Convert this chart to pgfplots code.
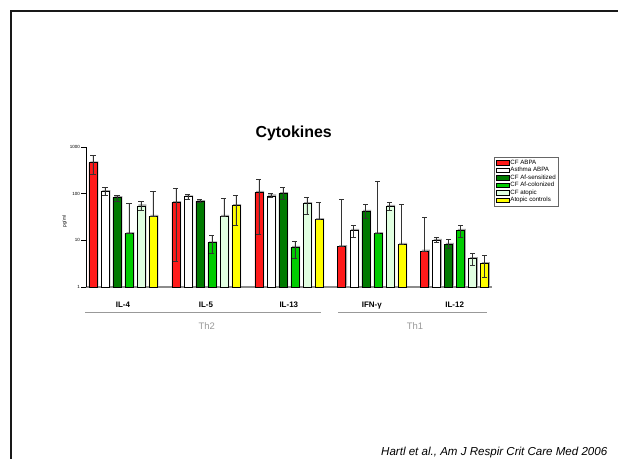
\documentclass[border=0pt]{standalone}
\usepackage{fontspec}
\setmainfont{Liberation Sans}
\usepackage{pgfplots}
\usepackage{pgfplotstable}
\pgfplotsset{compat=1.18}
\definecolor{cfred}{HTML}{FF1A1A}
\definecolor{cfdkgreen}{HTML}{007A00}
\definecolor{cfgreen}{HTML}{00CC00}
\definecolor{cfltgreen}{HTML}{E0FFE0}
\definecolor{cfyellow}{HTML}{FFFF00}

% x y errplus errminus
\pgfplotstableread{
x y ep em
0 460 190 197
6.91 65 65 61.5
13.82 107 95 93.5
20.73 7.4 66.6 0
27.64 5.9 25.1 0
}\tA
\pgfplotstableread{
x y ep em
1 112 22 20
7.91 86 11 9
14.82 90 11 7
21.73 16.6 3.9 5
28.64 10.1 1.3 1.2
}\tB
\pgfplotstableread{
x y ep em
2 83 10 14
8.91 68 8 4
15.82 101 33 26
22.73 42 18 13
29.64 8.3 2 1.7
}\tC
\pgfplotstableread{
x y ep em
3 14 48 0
9.91 8.9 3.9 3.6
16.82 7.1 2.4 3.0
23.73 14 169 0
30.64 16.6 3.9 4.7
}\tD
\pgfplotstableread{
x y ep em
4 55 13 11
10.91 33 46 0
17.82 62 21 26
24.73 54 12 11
31.64 4.1 1.1 1.24
}\tE
\pgfplotstableread{
x y ep em
5 33 77 0
11.91 56 36 35
18.82 28 38 0
25.73 8.3 50.7 0
32.64 3.2 1.5 1.6
}\tF

\pgfplotsset{
  shadowbar/.style={ybar, bar width=8bp, bar shift=0pt, fill=black!35, draw=none, forget plot, xshift=1.3bp, yshift=1.3bp},
  mainbar/.style={ybar, bar width=8bp, bar shift=0pt, draw=black, line width=0.5bp,
    error bars/y dir=both, error bars/y explicit,
    error bars/error bar style={black!80, line width=0.6bp},
    error bars/error mark options={rotate=90, mark size=2.6bp, black!80, line width=0.6bp}},
}

\begin{document}
\begin{tikzpicture}
\useasboundingbox (0,0) rectangle (618bp,459bp);
\clip (0,0) rectangle (618bp,459bp);
\fill[white] (0,0) rectangle (618bp,459bp);
\draw[line width=2.4bp, black!90] (11bp,-3bp) -- (11bp,448bp) -- (622bp,448bp);
\begin{axis}[
  at={(86bp,172bp)}, anchor=south west,
  width=406bp, height=140bp, scale only axis,
  xmin=-0.58, xmax=33.25,
  ymode=log, ymin=1, ymax=1000,
  ytick={1,10,100,1000}, yticklabels={1,10,100,1000},
  yminorticks=false,
  axis lines*=left,
  x axis line style={black!45, line width=1.8bp},
  y axis line style={black, line width=0.6bp},
  tick align=outside,
  major tick length=5bp,
  ytick style={black, line width=0.5bp},
  xtick={2.5,9.41,16.32,23.23,30.14},
  xticklabels={IL-4,IL-5,IL-13,IFN-γ,IL-12},
  xtick style={draw=none},
  xticklabel style={font=\bfseries\fontsize{8}{9}\selectfont, anchor=base, yshift=-15.5bp},
  yticklabel style={font=\fontsize{4.5}{5}\selectfont, inner sep=1bp},
  /pgf/number format/assume math mode=true,
  legend style={at={(axis description cs:1.005,0.9286)}, anchor=north west,
    draw=black!60, line width=0.5bp, font=\fontsize{6.2}{7}\selectfont,
    inner sep=1.5bp, row sep=-0.6bp,
    nodes={inner sep=1.2bp, text height=4.5bp, text depth=1.2bp}},
  legend cell align=left,
  legend image code/.code={\draw[#1, line width=0.4bp] (0bp,-2.2bp) rectangle (13bp,2.2bp);},
  clip=false,
]
\addplot[shadowbar] table[x=x,y=y] {\tA};
\addplot[mainbar, fill=cfred] table[x=x,y=y,y error plus=ep,y error minus=em] {\tA};
\addlegendentry{CF ABPA}
\addplot[shadowbar] table[x=x,y=y] {\tB};
\addplot[mainbar, fill=white] table[x=x,y=y,y error plus=ep,y error minus=em] {\tB};
\addlegendentry{Asthma ABPA}
\addplot[shadowbar] table[x=x,y=y] {\tC};
\addplot[mainbar, fill=cfdkgreen] table[x=x,y=y,y error plus=ep,y error minus=em] {\tC};
\addlegendentry{CF Af-sensitized}
\addplot[shadowbar] table[x=x,y=y] {\tD};
\addplot[mainbar, fill=cfgreen] table[x=x,y=y,y error plus=ep,y error minus=em] {\tD};
\addlegendentry{CF Af-colonized}
\addplot[shadowbar] table[x=x,y=y] {\tE};
\addplot[mainbar, fill=cfltgreen] table[x=x,y=y,y error plus=ep,y error minus=em] {\tE};
\addlegendentry{CF atopic}
\addplot[shadowbar] table[x=x,y=y] {\tF};
\addplot[mainbar, fill=cfyellow] table[x=x,y=y,y error plus=ep,y error minus=em] {\tF};
\addlegendentry{Atopic controls}
\end{axis}
\node[anchor=base, font=\bfseries\fontsize{16}{18}\selectfont] at (293.7bp,321.3bp) {Cytokines};
\node[rotate=90, font=\fontsize{4.8}{5}\selectfont] at (64.7bp,237.3bp) {pg/ml};
\draw[black!40, line width=0.9bp] (85bp,146.7bp) -- (321bp,146.7bp);
\draw[black!40, line width=0.9bp] (338bp,146.7bp) -- (487bp,146.7bp);
\node[anchor=base, text=black!40, font=\fontsize{9.5}{11}\selectfont] at (206.7bp,129bp) {Th2};
\node[anchor=base, text=black!40, font=\fontsize{9.5}{11}\selectfont] at (415bp,129bp) {Th1};
\node[anchor=base west, inner sep=0pt, font=\itshape\fontsize{11.6}{13}\selectfont] at (381bp,3.3bp) {Hartl et al., Am J Respir Crit Care Med 2006};
\end{tikzpicture}
\end{document}
